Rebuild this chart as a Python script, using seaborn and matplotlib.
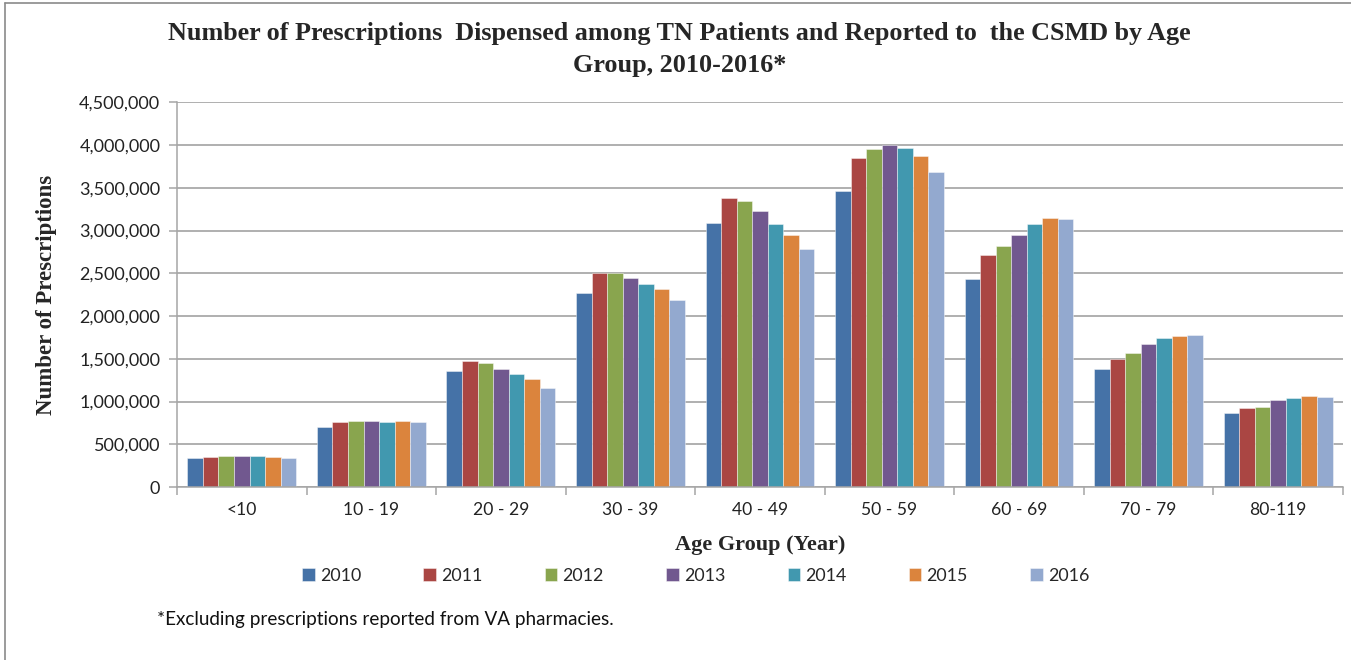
import numpy as np
import pandas as pd
import matplotlib
matplotlib.use("Agg")
import matplotlib.pyplot as plt
from matplotlib.ticker import FuncFormatter, MultipleLocator, FixedLocator
from matplotlib.lines import Line2D
import seaborn as sns

# data
age_groups = ["<10", "10 - 19", "20 - 29", "30 - 39", "40 - 49",
              "50 - 59", "60 - 69", "70 - 79", "80-119"]
years = ["2010", "2011", "2012", "2013", "2014", "2015", "2016"]
rx_2010 = [336000, 707000, 1356000, 2266000, 3094000, 3457000, 2438000, 1383000, 871000]
rx_2011 = [355000, 762000, 1473000, 2500000, 3383000, 3850000, 2710000, 1500000, 922000]
rx_2012 = [367000, 774000, 1450000, 2500000, 3340000, 3950000, 2820000, 1563000, 941000]
rx_2013 = [367000, 774000, 1380000, 2445000, 3223000, 4000000, 2945000, 1672000, 1016000]
rx_2014 = [367000, 762000, 1325000, 2372000, 3082000, 3970000, 3082000, 1746000, 1047000]
rx_2015 = [348000, 774000, 1263000, 2316000, 2950000, 3876000, 3149000, 1766000, 1070000]
rx_2016 = [336000, 762000, 1164000, 2188000, 2790000, 3680000, 3137000, 1778000, 1055000]

colors = ["#4572A7", "#AA4643", "#89A54E", "#71588F", "#4198AF", "#DB843D", "#93A9CF"]

series = [rx_2010, rx_2011, rx_2012, rx_2013, rx_2014, rx_2015, rx_2016]
df = pd.DataFrame({
    "age": np.tile(age_groups, len(years)),
    "year": np.repeat(years, len(age_groups)),
    "count": np.concatenate(series),
})

sns.set_style("white")
plt.rcParams["font.family"] = ["Lato", "DejaVu Sans"]
serif = ["Liberation Serif", "DejaVu Serif"]

fig = plt.figure(figsize=(13.51, 6.60), dpi=100)
ax = fig.add_axes([0.131, 0.262, 0.863, 0.583])

sns.barplot(data=df, x="age", y="count", hue="year", palette=colors,
            saturation=1, width=0.84, gap=0, ax=ax, legend=True,
            edgecolor=(1, 1, 1, 0.5), linewidth=0.6)

ax.set_ylim(0, 4500000)
ax.set_xlim(-0.5, len(age_groups) - 0.5)
ax.yaxis.set_major_locator(MultipleLocator(500000))
ax.yaxis.set_major_formatter(FuncFormatter(lambda v, p: f"{int(v):,}"))
ax.grid(axis="y", color="#9a9a9a", linewidth=1.1)
ax.set_axisbelow(True)

for s in ["top", "right"]:
    ax.spines[s].set_visible(False)
for s in ["left", "bottom"]:
    ax.spines[s].set_color("#a6a6a6")
    ax.spines[s].set_linewidth(1.1)

ax.tick_params(axis="y", which="major", length=6, color="#a6a6a6", width=1.1,
               labelsize=13, pad=6, left=True)
ax.tick_params(axis="x", which="major", length=0, labelsize=12.6, pad=11)
ax.xaxis.set_minor_locator(FixedLocator(np.arange(-0.5, len(age_groups), 1.0)))
ax.tick_params(axis="x", which="minor", length=6, color="#a6a6a6", width=1.1, bottom=True)
for lab in ax.get_xticklabels() + ax.get_yticklabels():
    lab.set_color("#222222")

ax.set_xlabel("Age Group (Year)", family=serif, fontweight="bold", fontsize=16, labelpad=12)
ax.set_ylabel("Number of Prescriptions", family=serif, fontweight="bold", fontsize=16.5, labelpad=16)

fig.text(0.503, 0.949, "Number of Prescriptions  Dispensed among TN Patients and Reported to  the CSMD by Age",
         ha="center", va="center", family=serif, fontweight="bold", fontsize=18.8)
fig.text(0.503, 0.901, "Group, 2010-2016*",
         ha="center", va="center", family=serif, fontweight="bold", fontsize=18.8)

handles, labels = ax.get_legend_handles_labels()
ax.get_legend().remove()
fig.legend(handles, labels, loc="center", bbox_to_anchor=(0.515, 0.128), ncol=7,
           frameon=False, fontsize=12.8, handlelength=0.7, handleheight=0.7,
           handletextpad=0.3, columnspacing=3.5)

fig.text(0.116, 0.061, "*Excluding prescriptions reported from VA pharmacies.",
         ha="left", va="center", fontsize=13.6, color="#111111")

# chart frame (left and top edges visible in the reference)
fig.add_artist(Line2D([0.004, 0.004], [0.0, 0.996], transform=fig.transFigure,
                      color="#8a8a8a", linewidth=1.2))
fig.add_artist(Line2D([0.004, 1.0], [0.996, 0.996], transform=fig.transFigure,
                      color="#8a8a8a", linewidth=1.2))

fig.savefig("out.png", dpi=100)
